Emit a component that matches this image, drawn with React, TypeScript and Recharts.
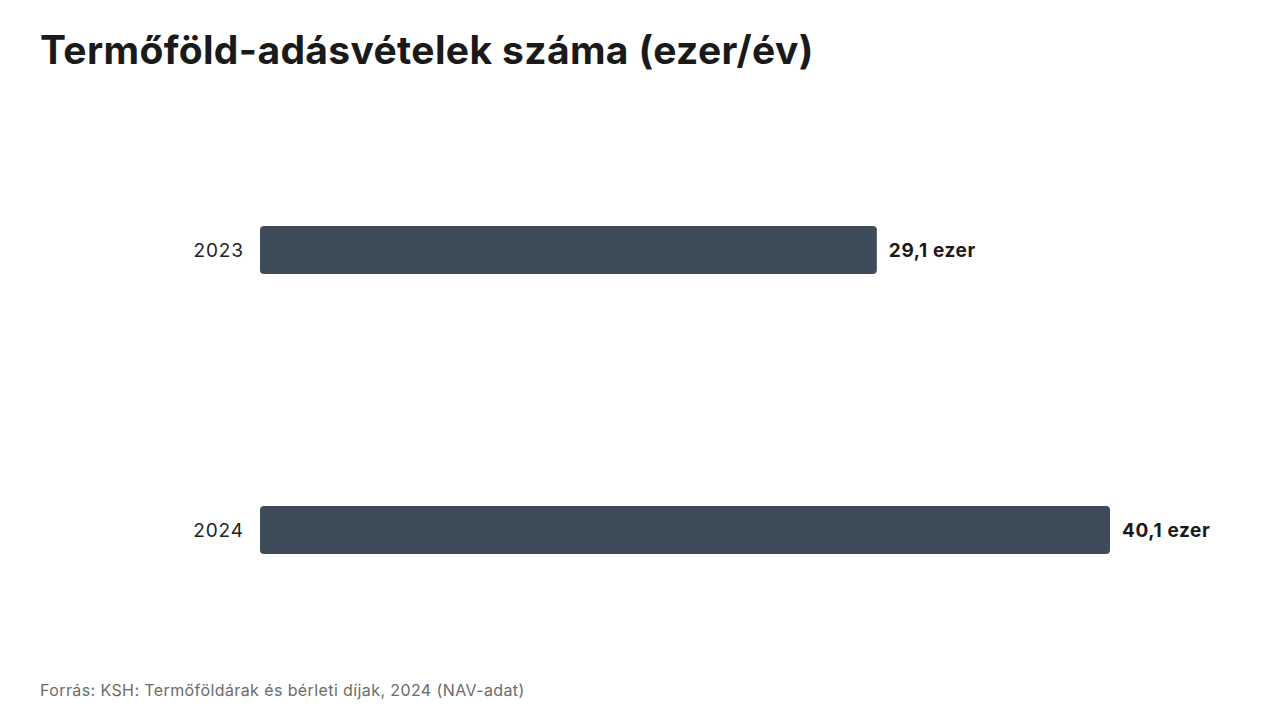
import React from 'react';
import { BarChart, Bar, XAxis, YAxis, LabelList } from 'recharts';

// Termőföld-adásvételek (ezer db / év)
const years = ['2023', '2024'];
const sales = [29.1, 40.1];

const data = years.map((year, i) => ({ year, sales: sales[i] }));

const FONT = 'Inter, "Noto Sans", sans-serif';
const BAR_COLOR = '#3e4c5a';

const formatLabel = (v: any) => `${Number(v).toFixed(1).replace('.', ',')} ezer`;

export default function App() {
  return (
    <div
      style={{
        position: 'absolute',
        top: 0,
        left: 0,
        width: 1280,
        height: 720,
        background: '#fff',
        fontFamily: FONT,
        overflow: 'hidden',
      }}
    >
      <div
        style={{
          position: 'absolute',
          left: 40,
          top: 26,
          fontSize: 39,
          fontWeight: 700,
          letterSpacing: 0.35,
          color: '#1a1a1a',
          whiteSpace: 'nowrap',
        }}
      >
        Termőföld-adásvételek száma (ezer/év)
      </div>

      <div style={{ position: 'absolute', left: 0, top: 0 }}>
        <BarChart
          width={1280}
          height={720}
          data={data}
          layout="vertical"
          margin={{ top: 110, right: 170, bottom: 50, left: 0 }}
          barSize={48}
        >
          <XAxis type="number" domain={[0, 40.1]} hide />
          <YAxis
            type="category"
            dataKey="year"
            width={260}
            axisLine={false}
            tickLine={false}
            tickMargin={10}
            tick={{ fill: '#222', fontSize: 19, fontFamily: FONT, letterSpacing: 0.9 }}
          />
          <Bar dataKey="sales" fill={BAR_COLOR} radius={4} isAnimationActive={false}>
            <LabelList
              dataKey="sales"
              position="right"
              offset={12}
              formatter={formatLabel}
              style={{ fill: '#1a1a1a', fontSize: 19, fontWeight: 700, fontFamily: FONT, letterSpacing: 0.6 }}
            />
          </Bar>
        </BarChart>
      </div>

      <div
        style={{
          position: 'absolute',
          left: 40,
          top: 680,
          fontSize: 16,
          letterSpacing: 0.4,
          color: '#6b6b6b',
          whiteSpace: 'nowrap',
        }}
      >
        Forrás: KSH: Termőföldárak és bérleti díjak, 2024 (NAV-adat)
      </div>
    </div>
  );
}
